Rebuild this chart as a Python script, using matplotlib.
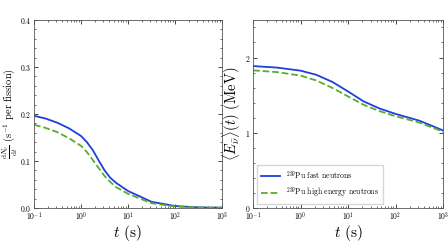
import numpy as np
import matplotlib
matplotlib.use('Agg')
import matplotlib.pyplot as plt
from matplotlib.ticker import LogLocator, MultipleLocator, NullFormatter

plt.rcParams['font.family'] = 'serif'
plt.rcParams['font.serif'] = ['cmr10', 'DejaVu Serif']
plt.rcParams['mathtext.fontset'] = 'cm'
plt.rcParams['axes.formatter.use_mathtext'] = True

# ---Values
t = [0.1, 0.178, 0.316, 0.562, 1, 1.33, 1.78, 2.37, 3.16, 4.2, 5.62, 10, 31.6, 100, 316, 1000]
rate_fast = [0.196, 0.190, 0.181, 0.169, 0.153, 0.140, 0.123, 0.101, 0.080, 0.064, 0.053, 0.036,
             0.013, 0.004, 0.001, 0.0003]
rate_high = [0.177, 0.170, 0.161, 0.148, 0.132, 0.119, 0.102, 0.085, 0.068, 0.055, 0.044, 0.030,
             0.010, 0.003, 0.001, 0.0003]

t_e = [0.1, 0.316, 1, 2.14, 4.68, 10, 21.4, 46.8, 100, 316, 1000]
energy_fast = [1.886, 1.866, 1.825, 1.770, 1.675, 1.548, 1.415, 1.320, 1.250, 1.160, 1.030]
energy_high = [1.829, 1.806, 1.759, 1.695, 1.595, 1.482, 1.370, 1.285, 1.219, 1.135, 1.013]

labels = [r'$^{239}$Pu fast neutrons', r'$^{239}$Pu high energy neutrons']
c_fast = '#1f3fdc'
c_high = '#5aab2e'

fig = plt.figure(figsize=(4.48, 2.52), dpi=100)
ax1 = fig.add_axes([0.076, 0.175, 0.4195, 0.746])
ax2 = fig.add_axes([0.565, 0.175, 0.424, 0.746])

ax1.plot(t, rate_fast, color=c_fast, lw=1.3, label=labels[0])
ax1.plot(t, rate_high, color=c_high, lw=1.3, ls='--', label=labels[1])
ax1.set_ylim(0, 0.4)
ax1.yaxis.set_major_locator(MultipleLocator(0.1))
ax1.yaxis.set_minor_locator(MultipleLocator(0.02))
ax1.set_ylabel(r'$\frac{\mathrm{d}N_{\bar{\nu}}}{\mathrm{d}t}$ $(\mathrm{s}^{-1}$ per fission$)$', fontsize=7.5)
ax1.yaxis.set_label_coords(-0.075, 0.5)

ax2.plot(t_e, energy_fast, color=c_fast, lw=1.3, label=labels[0])
ax2.plot(t_e, energy_high, color=c_high, lw=1.3, ls='--', label=labels[1])
ax2.set_ylim(0, 2.5)
ax2.yaxis.set_major_locator(MultipleLocator(1))
ax2.yaxis.set_minor_locator(MultipleLocator(0.2))
ax2.set_ylabel(r'$\langle E_{\bar{\nu}}\rangle(t)$ $(\mathrm{MeV})$', fontsize=10.5, labelpad=1)
ax2.legend(loc='lower left', fontsize=5.5, frameon=True, fancybox=False,
           handlelength=2.5, borderpad=0.5)

for ax in (ax1, ax2):
    ax.set_xscale('log')
    ax.set_xlim(0.1, 1000)
    ax.xaxis.set_major_locator(LogLocator(base=10, numticks=10))
    ax.xaxis.set_minor_locator(LogLocator(base=10, subs=np.arange(2, 10), numticks=10))
    ax.xaxis.set_minor_formatter(NullFormatter())
    ax.set_xlabel(r'$t$ $(\mathrm{s})$', fontsize=11, labelpad=0)
    ax.tick_params(which='both', direction='in', top=True, right=True, labelsize=5.5, pad=2)
    ax.tick_params(which='major', length=3, width=0.5)
    ax.tick_params(which='minor', length=1.5, width=0.4)
    for s in ax.spines.values():
        s.set_linewidth(0.6)
        s.set_color('#555555')

fig.savefig('out.png', dpi=100)
